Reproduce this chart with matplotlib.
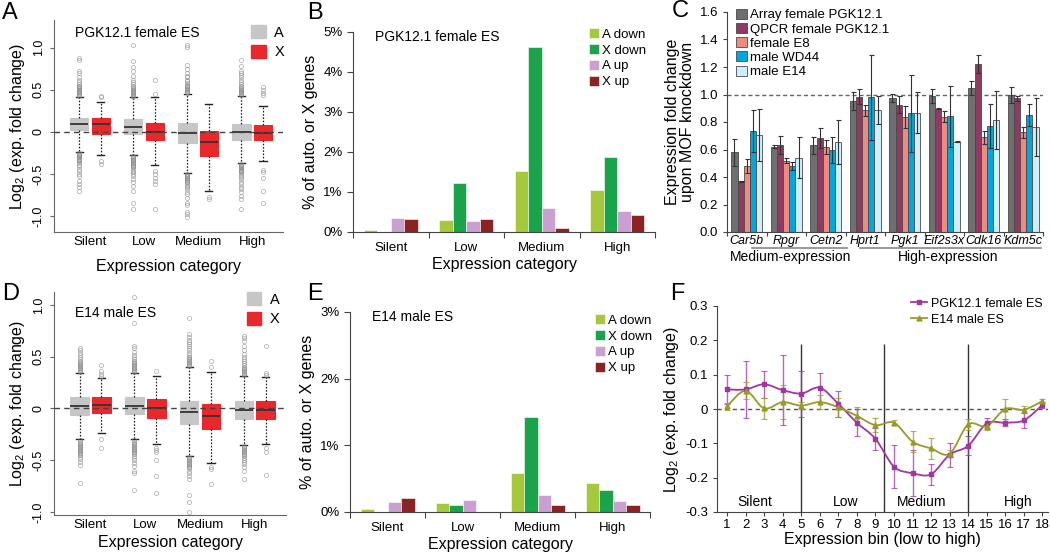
import numpy as np
import matplotlib
matplotlib.use("Agg")
import matplotlib.pyplot as plt
from matplotlib.patches import Patch, PathPatch
from matplotlib.path import Path
from matplotlib.lines import Line2D
import matplotlib.transforms as mtransforms

plt.rcParams['font.family'] = ['Liberation Sans', 'DejaVu Sans']
plt.rcParams['mathtext.default'] = 'regular'

W, H = 1050, 552

categories = ["Silent", "Low", "Medium", "High"]

# boxplots: (q1, median, q3, whisker low, whisker high) per category
pgk_A_box = [(0.02, 0.09, 0.17, -0.24, 0.42), (-0.03, 0.06, 0.15, -0.28, 0.41),
             (-0.13, -0.01, 0.10, -0.49, 0.45), (-0.10, 0.00, 0.09, -0.37, 0.43)]
pgk_X_box = [(-0.02, 0.09, 0.16, -0.27, 0.35), (-0.10, 0.00, 0.10, -0.39, 0.41),
             (-0.29, -0.12, 0.01, -0.70, 0.33), (-0.10, -0.01, 0.08, -0.35, 0.31)]
pgk_A_out = [
    [0.43, 0.44, 0.45, 0.46, 0.47, 0.48, 0.49, 0.50, 0.51, 0.52, 0.53, 0.54, 0.55, 0.57, 0.59,
     0.62, 0.65, 0.70, 0.72, 0.85, 0.88,
     -0.25, -0.26, -0.27, -0.28, -0.29, -0.30, -0.31, -0.32, -0.33, -0.34, -0.35, -0.37,
     -0.39, -0.41, -0.44, -0.47, -0.50, -0.53, -0.58, -0.62, -0.66, -0.70],
    [0.42, 0.43, 0.44, 0.45, 0.46, 0.47, 0.48, 0.49, 0.50, 0.51, 0.52, 0.53, 0.55, 0.57, 0.59,
     0.62, 0.66, 0.72, 0.77, 0.84, 1.03,
     -0.29, -0.30, -0.31, -0.32, -0.33, -0.34, -0.35, -0.36, -0.37, -0.38, -0.39, -0.40,
     -0.41, -0.42, -0.44, -0.46, -0.48, -0.50, -0.53, -0.56, -0.60, -0.64, -0.70, -0.84, -0.92],
    [0.46, 0.47, 0.48, 0.49, 0.50, 0.51, 0.52, 0.53, 0.54, 0.55, 0.56, 0.58, 0.60, 0.62, 0.65,
     0.67, 0.70, 0.75, 0.80, 1.01, 1.03,
     -0.50, -0.51, -0.52, -0.53, -0.54, -0.55, -0.56, -0.57, -0.58, -0.59, -0.60, -0.62,
     -0.64, -0.66, -0.68, -0.71, -0.74, -0.78, -0.84, -0.87, -0.95, -0.98, -1.01],
    [0.44, 0.45, 0.46, 0.47, 0.48, 0.49, 0.50, 0.51, 0.52, 0.53, 0.55, 0.57, 0.59, 0.62, 0.65,
     0.68, 0.70, 0.72, 0.78, 0.86,
     -0.38, -0.39, -0.40, -0.41, -0.42, -0.43, -0.44, -0.45, -0.46, -0.47, -0.48, -0.50,
     -0.52, -0.54, -0.56, -0.59, -0.62, -0.65, -0.68, -0.72, -0.76, -0.80, -0.92],
]
pgk_X_out = [[0.43, 0.41, -0.35, -0.38],
             [0.62, 0.45, -0.46, -0.50, -0.55, -0.58, -0.62, -0.92],
             [-0.77, -0.80],
             [0.53, 0.50, 0.46, 0.44, -0.45, -0.48, -0.55, -0.70, -0.84]]

e14_A_box = [(-0.06, 0.02, 0.11, -0.30, 0.34), (-0.05, 0.02, 0.11, -0.30, 0.34),
             (-0.15, -0.03, 0.07, -0.46, 0.40), (-0.10, -0.02, 0.07, -0.35, 0.31)]
e14_X_box = [(-0.04, 0.03, 0.11, -0.24, 0.29), (-0.09, 0.00, 0.09, -0.34, 0.31),
             (-0.20, -0.07, 0.04, -0.53, 0.35), (-0.10, -0.02, 0.07, -0.34, 0.30)]
e14_A_out = [
    [0.35, 0.36, 0.37, 0.38, 0.39, 0.40, 0.41, 0.42, 0.43, 0.44, 0.45, 0.46, 0.48, 0.50, 0.52,
     0.54, 0.56, 0.58,
     -0.31, -0.32, -0.33, -0.34, -0.35, -0.36, -0.37, -0.38, -0.39, -0.40, -0.41, -0.42,
     -0.43, -0.44, -0.45, -0.47, -0.49, -0.52, -0.55, -0.72],
    [0.35, 0.36, 0.37, 0.38, 0.39, 0.40, 0.41, 0.42, 0.43, 0.44, 0.45, 0.46, 0.48, 0.50, 0.52,
     0.55, 0.58, 0.60, 0.83, 1.08,
     -0.31, -0.32, -0.33, -0.34, -0.35, -0.36, -0.37, -0.38, -0.39, -0.40, -0.41, -0.42,
     -0.43, -0.44, -0.46, -0.48, -0.50, -0.53, -0.56, -0.60, -0.62, -0.79],
    [0.41, 0.42, 0.43, 0.44, 0.45, 0.46, 0.47, 0.48, 0.49, 0.50, 0.52, 0.54, 0.56, 0.58, 0.60,
     0.62, 0.64, 0.66, 0.69, 0.72, 0.87,
     -0.47, -0.48, -0.49, -0.50, -0.51, -0.52, -0.53, -0.54, -0.55, -0.56, -0.57, -0.58,
     -0.60, -0.62, -0.65, -0.68, -0.84, -0.90, -1.00],
    [0.32, 0.33, 0.34, 0.35, 0.36, 0.37, 0.38, 0.39, 0.40, 0.42, 0.44, 0.46, 0.48, 0.50, 0.53,
     0.56, 0.60, 0.65, 0.68, 0.70,
     -0.36, -0.37, -0.38, -0.39, -0.40, -0.41, -0.42, -0.43, -0.44, -0.45, -0.46, -0.48,
     -0.50, -0.52, -0.54, -0.57, -0.60, -0.68],
]
e14_X_out = [[0.42, 0.36, 0.33, 0.31, -0.30, -0.38],
             [0.36, -0.38, -0.40, -0.42, -0.50, -0.65, -0.82],
             [0.46, 0.40, -0.57, -0.59, -0.73],
             [0.60, 0.34, 0.32, -0.38, -0.42, -0.64]]

# bar panels B and E (% of genes)
bar_labels = ["A down", "X down", "A up", "X up"]
pgk_a_down = [0.06, 0.29, 1.53, 1.05]
pgk_x_down = [0.0, 1.22, 4.62, 1.87]
pgk_a_up = [0.35, 0.28, 0.61, 0.53]
pgk_x_up = [0.33, 0.33, 0.11, 0.43]
e14_a_down = [0.045, 0.135, 0.58, 0.435]
e14_x_down = [0.0, 0.105, 1.43, 0.325]
e14_a_up = [0.15, 0.185, 0.26, 0.17]
e14_x_up = [0.21, 0.0, 0.105, 0.105]

# panel C
genes = ["Car5b", "Rpgr", "Cetn2", "Hprt1", "Pgk1", "Eif2s3x", "Cdk16", "Kdm5c"]
c_labels = ["Array female PGK12.1", "QPCR female PGK12.1", "female E8", "male WD44", "male E14"]
array_vals = [0.58, 0.62, 0.63, 0.955, 0.977, 0.987, 1.05, 0.996]
array_err = [0.10, 0.01, 0.06, 0.066, 0.03, 0.05, 0.05, 0.055]
qpcr_vals = [0.368, 0.633, 0.684, 0.984, 0.926, 0.895, 1.222, 0.972]
qpcr_err = [0.005, 0.065, 0.07, 0.053, 0.06, 0.004, 0.063, 0.02]
e8_vals = [0.478, 0.519, 0.616, 0.887, 0.834, 0.839, 0.688, 0.727]
e8_err = [0.05, 0.02, 0.05, 0.04, 0.08, 0.04, 0.05, 0.04]
wd44_vals = [0.735, 0.48, 0.594, 0.98, 0.865, 0.841, 0.773, 0.848]
wd44_err = [0.15, 0.03, 0.095, 0.31, 0.28, 0.22, 0.16, 0.08]
e14c_vals = [0.703, 0.54, 0.652, 0.887, 0.868, 0.657, 0.815, 0.766]
e14c_err = [0.19, 0.15, 0.16, 0.10, 0.15, 0.005, 0.21, 0.21]

# panel F
bins = list(range(1, 19))
pgk_bin = [0.057, 0.057, 0.072, 0.055, 0.045, 0.062, 0.015, -0.040, -0.087, -0.168,
           -0.187, -0.190, -0.133, -0.107, -0.042, -0.040, -0.033, 0.012]
pgk_bin_err = [0.043, 0.083, 0.040, 0.103, 0.067, 0.043, 0.037, 0.040, 0.033, 0.063,
               0.067, 0.030, 0.035, 0.028, 0.016, 0.010, 0.022, 0.008]
e14_bin = [0.008, 0.053, 0.002, 0.020, 0.010, 0.020, 0.005, -0.020, -0.047, -0.040,
           -0.095, -0.115, -0.130, -0.045, -0.050, 0.000, -0.002, 0.023]
e14_bin_err = [0.010, 0.025, 0.030, 0.050, 0.010, 0.020, 0.028, 0.027, 0.020, 0.008,
               0.030, 0.030, 0.010, 0.017, 0.010, 0.030, 0.010, 0.005]
bin_groups = ["Silent", "Low", "Medium", "High"]
bin_group_x = [2.5, 7.4, 11.5, 16.7]
bin_dividers = [5, 9.45, 14]


def rect(l, t, r, b):
    return [l / W, 1 - b / H, (r - l) / W, (b - t) / H]


def smooth_path(x, y):
    pts = np.column_stack([x, y]).astype(float)
    verts, codes = [pts[0]], [Path.MOVETO]
    n = len(pts)
    for i in range(n - 1):
        p0 = pts[i - 1] if i > 0 else pts[i]
        p1, p2 = pts[i], pts[i + 1]
        p3 = pts[i + 2] if i + 2 < n else pts[i + 1]
        verts += [p1 + (p2 - p0) / 6, p2 - (p3 - p1) / 6, p2]
        codes += [Path.CURVE4] * 3
    return Path(verts, codes)


def box_stats(boxes, outs):
    return [dict(q1=b[0], med=b[1], q3=b[2], whislo=b[3], whishi=b[4], fliers=o)
            for b, o in zip(boxes, outs)]


fig = plt.figure(figsize=(W / 100, H / 100), dpi=100)

A_COL, X_COL = '#c6c6c6', '#e8282b'


def box_panel(ax, aboxes, aouts, xboxes, xouts, title, ylim, tpos, lpos, xpad):
    pos = np.arange(1, 5)
    for boxes, outs, off, col in [(aboxes, aouts, -0.2, A_COL), (xboxes, xouts, 0.2, X_COL)]:
        ax.bxp(box_stats(boxes, outs), positions=pos + off, widths=0.34, patch_artist=True,
               boxprops=dict(facecolor=col, edgecolor=col, lw=0.8),
               medianprops=dict(color='#333333', lw=1.3),
               whiskerprops=dict(color='#222222', lw=0.9, ls=(0, (1.3, 1.3))),
               capprops=dict(color='#222222', lw=1.0), capwidths=0.13,
               flierprops=dict(marker='o', mfc='none', mec='#8a8a8a', ms=3.0, mew=0.6,
                               alpha=0.6),
               manage_ticks=False)
    ax.axhline(0, color='#444444', lw=1.0, ls=(0, (4, 3)), zorder=5)
    ax.set_xlim(0.333, 4.57)
    ax.set_ylim(*ylim)
    ax.set_xticks(pos)
    ax.set_xticklabels(categories, fontsize=9.5)
    ax.tick_params(axis='x', length=0, pad=3)
    ax.set_yticks([-1.0, -0.5, 0, 0.5, 1.0])
    ax.set_yticklabels(['-1.0', '-0.5', '0', '0.5', '1.0'], fontsize=9, rotation=90,
                       va='center')
    ax.tick_params(axis='y', length=3, color='#666666')
    for s in ['top', 'right']:
        ax.spines[s].set_visible(False)
    for s in ['left', 'bottom']:
        ax.spines[s].set_color('#666666')
    ax.set_xlabel('Expression category', fontsize=11.5, labelpad=xpad)
    ax.set_ylabel('Log$_2$ (exp. fold change)', fontsize=11.5, labelpad=4)
    ax.text(tpos[0], tpos[1], title, transform=ax.transAxes, fontsize=10, va='center')
    handles = [Patch(facecolor=A_COL, edgecolor=A_COL), Patch(facecolor=X_COL, edgecolor=X_COL)]
    ax.legend(handles, ['A', 'X'], loc='upper left', bbox_to_anchor=lpos, frameon=False,
              fontsize=10.5, handlelength=1.0, handleheight=1.0, handletextpad=0.6,
              labelspacing=0.35, borderpad=0, borderaxespad=0)


BAR_COLS = ['#a6c93c', '#1aa34a', '#c9a0cf', '#8b2323']


def bar_panel(ax, series, ymax, title, lpos):
    x = np.arange(4) + 0.5
    w = 0.18
    for i, (vals, col, lab) in enumerate(zip(series, BAR_COLS, bar_labels)):
        ax.bar(x + (i - 1.5) * w, vals, width=w, color=col, edgecolor='white', lw=0.4,
               label=lab)
    ax.set_xlim(0, 4)
    ax.set_ylim(0, ymax)
    ax.set_xticks(np.arange(5))
    ax.set_xticklabels([])
    ax.set_xticks(x, minor=True)
    ax.set_xticklabels(categories, minor=True, fontsize=9.5)
    ax.tick_params(axis='x', which='major', length=4, direction='out', color='#444444')
    ax.tick_params(axis='x', which='minor', length=0, pad=7)
    ax.set_yticks(np.arange(ymax + 1))
    ax.set_yticklabels([f'{v}%' for v in range(ymax + 1)], fontsize=9.5)
    ax.tick_params(axis='y', length=4, color='#444444')
    for s in ['top', 'right']:
        ax.spines[s].set_visible(False)
    for s in ['left', 'bottom']:
        ax.spines[s].set_color('#444444')
    ax.set_xlabel('Expression category', fontsize=11.5, labelpad=2)
    ax.set_ylabel('% of auto. or X genes', fontsize=11.5, labelpad=4)
    ax.text(0.073, 0.975, title, transform=ax.transAxes, fontsize=10, va='center')
    ax.legend(loc='upper left', bbox_to_anchor=lpos, frameon=False, fontsize=9.5,
              handlelength=0.8, handleheight=0.8, handletextpad=0.2, labelspacing=0.25,
              borderpad=0, borderaxespad=0)


# ---- A ----
axA = fig.add_axes(rect(54, 20, 283, 232))
box_panel(axA, pgk_A_box, pgk_A_out, pgk_X_box, pgk_X_out, 'PGK12.1 female ES',
          (-1.19, 1.33), (0.092, 0.94), (0.86, 0.975), 8)

# ---- D ----
axD = fig.add_axes(rect(54, 292, 286, 515))
box_panel(axD, e14_A_box, e14_A_out, e14_X_box, e14_X_out, 'E14 male ES',
          (-1.03, 1.125), (0.09, 0.905), (0.83, 1.0), 3)

# ---- B ----
axB = fig.add_axes(rect(353, 32, 655, 232))
bar_panel(axB, [pgk_a_down, pgk_x_down, pgk_a_up, pgk_x_up], 5, 'PGK12.1 female ES',
          (0.78, 1.02))

# ---- E ----
axE = fig.add_axes(rect(350, 312, 650, 512))
bar_panel(axE, [e14_a_down, e14_x_down, e14_a_up, e14_x_up], 3, 'E14 male ES',
          (0.815, 0.99))

# ---- C ----
axC = fig.add_axes(rect(727, 12, 1043, 232))
c_cols = ['#6e6f71', '#8e3a63', '#f08a7e', '#00a6de', '#cdeefa']
c_vals = [array_vals, qpcr_vals, e8_vals, wd44_vals, e14c_vals]
c_errs = [array_err, qpcr_err, e8_err, wd44_err, e14c_err]
gx = np.arange(len(genes)) + 0.5
bw = 0.156
for j, (vals, errs, col, lab) in enumerate(zip(c_vals, c_errs, c_cols, c_labels)):
    axC.bar(gx + (j - 2) * bw, vals, width=bw, color=col, edgecolor='#4a4a4a', lw=0.6,
            label=lab, zorder=2)
    axC.errorbar(gx + (j - 2) * bw, vals, yerr=errs, fmt='none', ecolor='#333333',
                 elinewidth=0.8, capsize=1.8, capthick=0.8, zorder=3)
axC.axhline(1.0, color='#666666', lw=1.0, ls=(0, (3, 2)), zorder=1)
axC.set_xlim(0, 8)
axC.set_ylim(0, 1.6)
axC.set_yticks(np.arange(0, 1.61, 0.2))
axC.set_yticklabels([f'{v:.1f}' for v in np.arange(0, 1.61, 0.2)], fontsize=9.5)
axC.tick_params(axis='y', length=3, color='#444444')
axC.set_xticks(np.arange(9))
axC.set_xticklabels([])
axC.tick_params(axis='x', length=3, color='#444444')
for s in ['top', 'right']:
    axC.spines[s].set_visible(False)
for s in ['left', 'bottom']:
    axC.spines[s].set_color('#444444')
trC = mtransforms.blended_transform_factory(axC.transData, axC.transAxes)
for xg, g in zip(gx, genes):
    axC.text(xg, -0.04, g, transform=trC, ha='center', va='center', fontsize=9,
             style='italic')
axC.plot([0.63, 3.04], [-0.072, -0.072], transform=trC, color='#888888', lw=1.2,
         clip_on=False)
axC.plot([3.37, 7.95], [-0.072, -0.072], transform=trC, color='#888888', lw=1.2,
         clip_on=False)
axC.text(1.6, -0.115, 'Medium-expression', transform=trC, ha='center', va='center',
         fontsize=10)
axC.text(5.6, -0.115, 'High-expression', transform=trC, ha='center', va='center',
         fontsize=10)
axC.set_ylabel('Expression fold change\nupon MOF knockdown', fontsize=11.5, labelpad=3,
               linespacing=1.0)
axC.legend(loc='upper left', bbox_to_anchor=(0.03, 1.015), frameon=False, fontsize=9.5,
           handlelength=0.8, handleheight=0.8, handletextpad=0.2, labelspacing=0.12,
           borderpad=0, borderaxespad=0)

# ---- F ----
axF = fig.add_axes(rect(717, 306, 1048, 512))
PUR, OLV = '#a0369f', '#9a9a2a'
axF.axhline(0, color='#555555', lw=1.0, ls=(0, (3, 2.5)), zorder=1)
axF.vlines(bin_dividers, -0.3, 0.19, color='#333333', lw=1.0, zorder=1)
for vals, errs, col, mk, lab in [(pgk_bin, pgk_bin_err, PUR, 's', 'PGK12.1 female ES'),
                                 (e14_bin, e14_bin_err, OLV, '^', 'E14 male ES')]:
    axF.add_patch(PathPatch(smooth_path(bins, vals), fill=False, edgecolor=col, lw=1.3,
                            zorder=3))
    axF.errorbar(bins, vals, yerr=errs, fmt='none', ecolor=col, elinewidth=1.0, capsize=2,
                 capthick=0.8, alpha=0.75, zorder=2)
    axF.plot(bins, vals, ls='none', marker=mk, color=col, ms=3.5, zorder=4)
for xg, g in zip(bin_group_x, bin_groups):
    axF.text(xg, -0.272, g, ha='center', va='center', fontsize=10)
axF.set_xlim(0.46, 18.3)
axF.set_ylim(-0.3, 0.3)
axF.set_xticks(bins)
axF.set_xticklabels([str(b) for b in bins], fontsize=9.5)
axF.set_yticks([-0.3, -0.2, -0.1, 0, 0.1, 0.2, 0.3])
axF.set_yticklabels(['-0.3', '-0.2', '-0.1', '0', '0.1', '0.2', '0.3'], fontsize=9.5)
axF.tick_params(length=3, color='#444444')
axF.tick_params(axis='x', pad=2)
for s in ['top', 'right']:
    axF.spines[s].set_visible(False)
for s in ['left', 'bottom']:
    axF.spines[s].set_color('#444444')
axF.set_xlabel('Expression bin (low to high)', fontsize=11.5, labelpad=1)
axF.set_ylabel('Log$_2$ (exp. fold change)', fontsize=11.5, labelpad=3)
fh = [Line2D([], [], color=PUR, marker='s', ms=3.5, lw=1.3),
      Line2D([], [], color=OLV, marker='^', ms=3.5, lw=1.3)]
axF.legend(fh, ['PGK12.1 female ES', 'E14 male ES'], loc='upper left',
           bbox_to_anchor=(0.585, 1.04), frameon=False, fontsize=9, handlelength=1.3,
           handletextpad=0.3, labelspacing=0.3, borderpad=0, borderaxespad=0)

# panel letters
for letter, (lx, ly) in zip('ABCDEF', [(2, 2), (307, 2), (672, 0), (2, 283), (307, 283),
                                       (670, 283)]):
    fig.text(lx / W, 1 - ly / H, letter, fontsize=17, va='top', ha='left')

fig.savefig('out.png', dpi=100)
